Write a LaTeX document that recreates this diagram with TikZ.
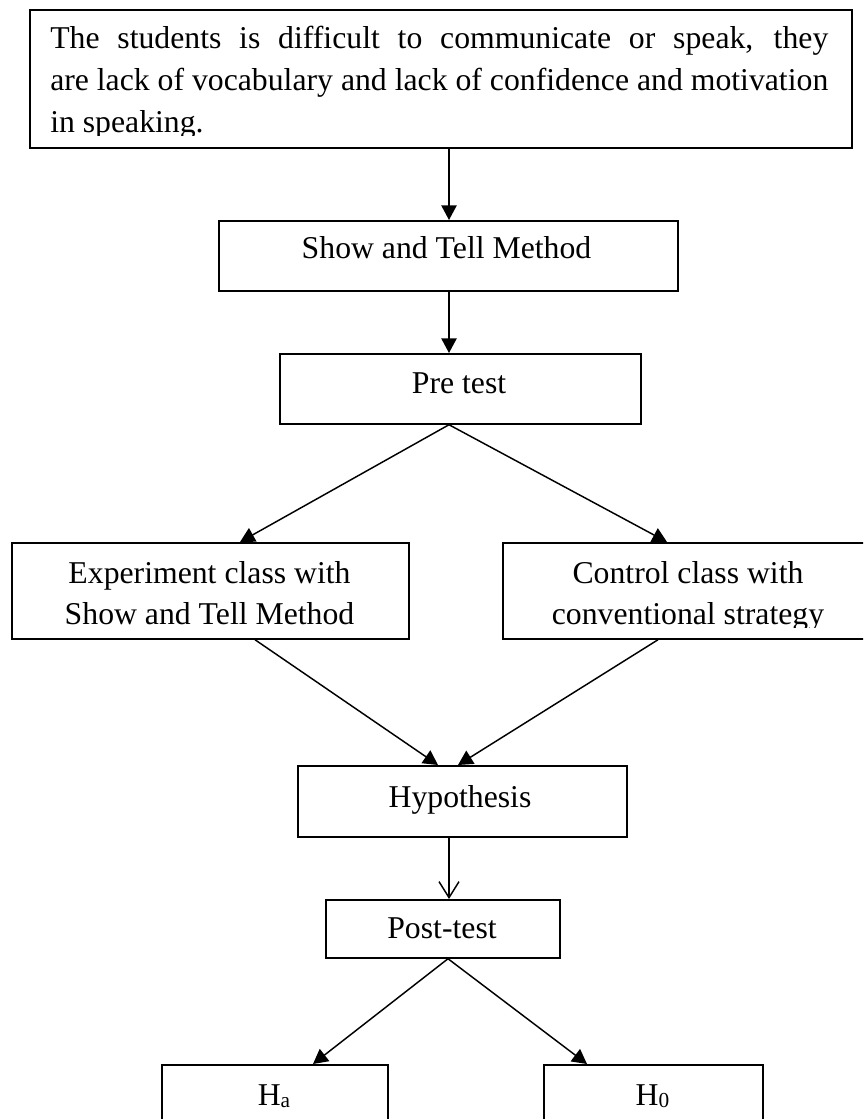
\documentclass[tikz,border=0pt]{standalone}
\usepackage{fontspec}
\setmainfont{Liberation Serif}
\usetikzlibrary{arrows.meta}
\begin{document}
\begin{tikzpicture}[x=0.75pt,y=-0.75pt,
  box/.style={draw,line width=1.3pt,rectangle,inner sep=0pt,anchor=north west},
  txt/.style={inner sep=0pt,anchor=base,font=\fontsize{23.8pt}{31.1pt}\selectfont},
  arr/.style={-{Triangle[length=11pt,width=11.5pt]},line width=1.1pt},
  openarr/.style={-{Straight Barb[length=12pt,width=15pt]},line width=1.1pt}]
\useasboundingbox (0,0) rectangle (863,1119);
\clip (0,0) rectangle (863,1119);
% boxes
\node[box,minimum width=616.5pt,minimum height=103.5pt] (top) at (29,9) {};
\node[box,minimum width=344.25pt,minimum height=52.5pt] (show) at (218,220) {};
\node[box,minimum width=270.75pt,minimum height=52.5pt] (pre) at (279,353) {};
\node[box,minimum width=297.75pt,minimum height=72pt] (exp) at (11,542) {};
\node[box,minimum width=279pt,minimum height=72pt] (ctrl) at (502,542) {};
\node[box,minimum width=246.75pt,minimum height=53.25pt] (hyp) at (297,765) {};
\node[box,minimum width=175.5pt,minimum height=43.5pt] (post) at (325,899) {};
\node[box,minimum width=169.5pt,minimum height=60pt] (ha) at (161,1064) {};
\node[box,minimum width=164.25pt,minimum height=60pt] (hz) at (543,1064) {};
% texts
\begin{scope}
\clip (29,9) rectangle (851,136);
\node[txt,anchor=base west] (t1) at (50,49) {\makebox[583.5pt][s]{The students is difficult to communicate or speak, they}};
\node[txt,anchor=base west] (t2) at (50,91) {\makebox[583.5pt][s]{are lack of vocabulary and lack of confidence and motivation}};
\node[txt,anchor=base west] (t3) at (50,133) {in speaking.};
\end{scope}
\node[txt] (tshow) at (446.5,259) {Show and Tell Method};
\node[txt] (tpre) at (459,393) {Pre test};
\node[txt] (texp1) at (209.5,583) {Experiment class with};
\node[txt] (texp2) at (209.5,624) {Show and Tell Method};
\begin{scope}
\clip (502,542) rectangle (874,627);
\node[txt] (tctrl1) at (688,583) {Control class with};
\node[txt] (tctrl2) at (688,624) {conventional strategy};
\end{scope}
\node[txt] (thyp) at (460,807) {Hypothesis};
\node[txt] (tpost) at (442,938) {Post-test};
\node[txt] (tha) at (274,1105) {H\raisebox{-1.5pt}{\fontsize{16pt}{16pt}\selectfont a}};
\node[txt] (thz) at (652.5,1105) {H\raisebox{-1.5pt}{\fontsize{16pt}{16pt}\selectfont 0}};
% connector x-positions
\coordinate (cx) at (449,0);
\coordinate (ea) at (240,0);
\coordinate (ca) at (667,0);
\coordinate (eb) at (255,0);
\coordinate (cb) at (658,0);
\coordinate (ha1) at (438,0);
\coordinate (ha2) at (458,0);
\coordinate (px) at (448,0);
\coordinate (hx) at (313,0);
\coordinate (zx) at (587,0);
% connectors
\draw[arr] (top.south -| cx) -- (show.north -| cx);
\draw[arr] (show.south -| cx) -- (pre.north -| cx);
\draw[arr] (pre.south -| cx) -- (exp.north -| ea);
\draw[arr] (pre.south -| cx) -- (ctrl.north -| ca);
\draw[arr] (exp.south -| eb) -- (hyp.north -| ha1);
\draw[arr] (ctrl.south -| cb) -- (hyp.north -| ha2);
\draw[openarr] (hyp.south -| cx) -- (post.north -| cx);
\draw[arr] (post.south -| px) -- (ha.north -| hx);
\draw[arr] (post.south -| px) -- (hz.north -| zx);
\end{tikzpicture}
\end{document}
